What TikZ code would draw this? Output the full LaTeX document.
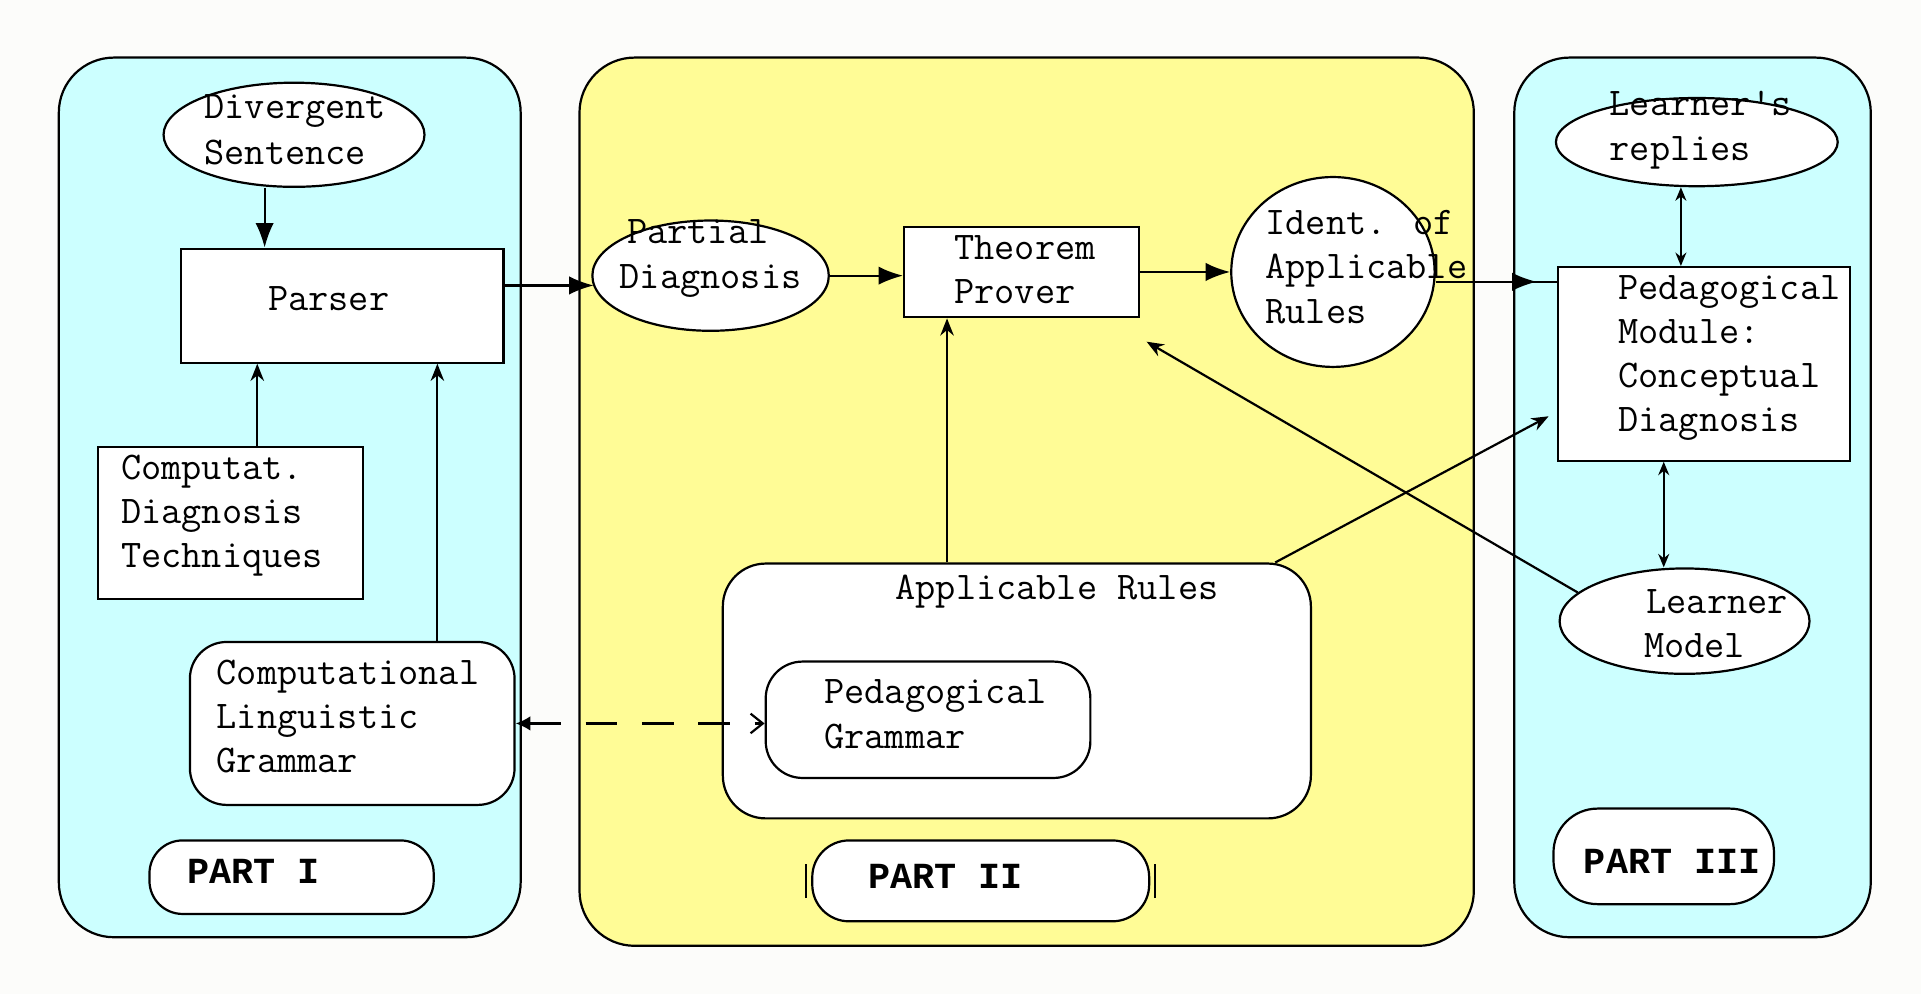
\documentclass[tikz,border=0pt]{standalone}
\usepackage{fontspec}
\newfontfamily\partfont{Liberation Mono}
\usetikzlibrary{arrows.meta,shapes.geometric,decorations.markings}
\definecolor{pcyan}{RGB}{204,255,255}
\definecolor{pyellow}{RGB}{255,252,150}
\definecolor{bgc}{RGB}{252,252,250}
\begin{document}
\begin{tikzpicture}[x=1pt,y=-1pt,
  line width=1.8pt,
  panel/.style={draw, rectangle, rounded corners=45pt, inner sep=0pt},
  box/.style={draw, rectangle, fill=white, inner sep=0pt},
  rbox/.style={draw, rectangle, rounded corners=30pt, fill=white, inner sep=0pt},
  ell/.style={draw, ellipse, fill=white, inner sep=0pt},
  txt/.style={font=\ttfamily\fontsize{32}{36}\selectfont, align=left, inner sep=0pt, anchor=west},
  ptxt/.style={font=\partfont\bfseries\fontsize{30}{36}\selectfont, inner sep=0pt, anchor=west},
  bigarrow/.style={-{Latex[length=20pt,width=15pt]}},
  smallarrow/.style={-{Stealth[length=14pt,width=11pt]}},
  dblarrow/.style={{Stealth[length=11pt,width=9pt]}-{Stealth[length=11pt,width=9pt]}},
  midarrow/.style={postaction={decorate}, decoration={markings, mark=at position #1 with {\arrow{Latex[length=20pt,width=15pt]}}}}
]
\useasboundingbox (0,0) rectangle (1568,811);
\fill[bgc] (0,0) rectangle (1568,811);

% panels
\node[panel, fill=pcyan, minimum width=377pt, minimum height=718pt] (p1) at (236.5,406) {};
\node[panel, fill=pyellow, minimum width=730pt, minimum height=725pt] (p2) at (838,409.5) {};
\node[panel, fill=pcyan, minimum width=291pt, minimum height=718pt] (p3) at (1381.5,406) {};

% Part I
\node[ell, minimum width=213pt, minimum height=85pt] (div) at (240,110) {};
\node[txt] (divT) at (166,106) {Divergent\\[2pt]Sentence};
\node[box, minimum width=263pt, minimum height=93pt] (parser) at (279.5,249.5) {};
\node[txt] (parserT) at (218,244) {Parser};
\node[box, minimum width=216pt, minimum height=124pt] (comp) at (188,427) {};
\node[txt] (compT) at (98,421) {Computat.\\Diagnosis\\Techniques};
\node[rbox, minimum width=265pt, minimum height=133pt] (clg) at (287.5,590.5) {};
\node[txt] (clgT) at (176,585) {Computational\\Linguistic\\Grammar};
\node[draw, rectangle, rounded corners=27pt, fill=white, minimum width=232pt, minimum height=60pt] (part1) at (238,716) {};
\node[ptxt] (part1T) at (152,711) {PART I};

% Part II
\node[ell, minimum width=193pt, minimum height=90pt] (pd) at (580,225) {};
\node[txt] (pdT) at (505,211) {\hspace*{6pt}Partial\\Diagnosis};
\node[box, minimum width=192pt, minimum height=74pt] (tp) at (834,222) {};
\node[txt] (tpT) at (778,220) {Theorem\\Prover};
\node[ell, minimum width=166pt, minimum height=155pt] (ident) at (1088,222) {};
\node[txt] (identT) at (1032,218) {Ident. of\\Applicable\\Rules};
\node[draw, rectangle, rounded corners=35pt, fill=white, minimum width=480pt, minimum height=208pt] (ar) at (830,564) {};
\node[txt] (arT) at (730,483) {Applicable Rules};
\node[rbox, minimum width=265pt, minimum height=95pt] (pg) at (757.5,587.5) {};
\node[txt] (pgT) at (672,583) {Pedagogical\\Grammar};
\node[draw, rectangle, rounded corners=30pt, fill=white, minimum width=275pt, minimum height=66pt] (part2) at (800.5,719) {};
\node[ptxt] (part2T) at (708,715) {PART II};
\draw[line width=1.8pt] ([xshift=-4pt,yshift=-14pt]part2.west) coordinate (t1a) -- ([xshift=-4pt,yshift=14pt]part2.west) coordinate (t1b);
\draw[line width=1.8pt] ([xshift=4pt,yshift=-14pt]part2.east) coordinate (t2a) -- ([xshift=4pt,yshift=14pt]part2.east) coordinate (t2b);

% Part III
\node[ell, minimum width=230pt, minimum height=72pt] (lr) at (1385,116) {};
\node[txt] (lrT) at (1313,106) {Learner's\\[1pt]replies};
\node[box, minimum width=238pt, minimum height=158pt] (ped) at (1391,297) {};
\node[txt] (pedT) at (1320,292) {Pedagogical\\Module:\\Conceptual\\Diagnosis};
\node[ell, minimum width=204pt, minimum height=86pt] (lm) at (1375,507) {};
\node[txt] (lmT) at (1341,509) {\hspace*{2pt}Learner\\Model};
\node[draw, rectangle, rounded corners=36pt, fill=white, minimum width=180pt, minimum height=78pt] (part3) at (1358,699) {};
\node[ptxt] (part3T) at (1292,703) {PART III};

% connectors
\draw[bigarrow] ([xshift=-24pt]div.south) -- ([xshift=-24pt]div.south |- parser.north);
\draw[smallarrow] ([xshift=22pt]comp.north) -- ([xshift=22pt]comp.north |- parser.south);
\draw[smallarrow] ([xshift=69.5pt]clg.north) -- ([xshift=69.5pt]clg.north |- parser.south);
\draw[bigarrow] ([yshift=-8pt]pd.west -| parser.east) -- ([xshift=2pt,yshift=-8pt]pd.west);
\draw[bigarrow] (pd.east) -- (pd.east -| tp.west);
\draw[bigarrow] (tp.east) -- (ident.west);
\draw[midarrow=0.83] ([yshift=-8pt]ident.east) -- ([yshift=-8pt]ident.east -| ped.west);
\draw[smallarrow] ([xshift=-57pt]ar.north) -- ([xshift=-57pt]ar.north |- tp.south);
\draw[smallarrow] (lm.165) -- ([xshift=5pt,yshift=-19pt]tp.south east);
\draw[smallarrow, shorten >=8pt] ([xshift=-30pt]ar.north east) -- ([yshift=-39pt]ped.west);
\draw[dblarrow, line width=1.5pt] ([xshift=-13pt]lr.south) -- ([xshift=-13pt]lr.south |- ped.north);
\draw[dblarrow, line width=1.5pt] ([xshift=-33pt]ped.south) -- ([xshift=-17pt]lm.north);
\draw[dash pattern=on 26pt off 20pt, {Latex[length=12pt,width=12pt]}-{Straight Barb[length=10pt,width=16pt]}] (clg.east) -- (clg.east -| pg.west);
\end{tikzpicture}
\end{document}
